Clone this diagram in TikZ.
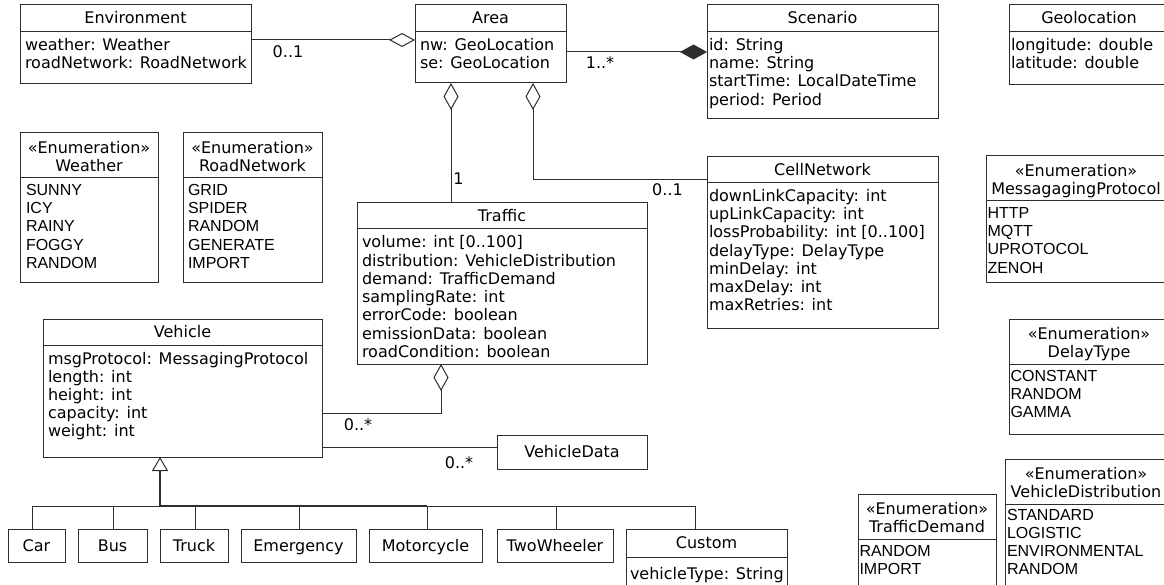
\documentclass[tikz,border=0pt]{standalone}
\usepackage{fontspec}
\setmainfont{DejaVu Sans}
\newfontfamily\litfont{Liberation Sans}
\usetikzlibrary{arrows.meta,calc}
\definecolor{linec}{gray}{0.18}
\tikzset{
  umlbox/.style={draw=linec, line width=1pt, anchor=north west, inner sep=0pt, outer sep=0pt},
  txt/.style={inner sep=0pt, outer sep=0pt, font=\fontsize{16}{18}\selectfont},
  ttl/.style={txt, anchor=base},
  att/.style={txt, anchor=base west},
  lit/.style={inner sep=0pt, outer sep=0pt, anchor=base west, font=\litfont\fontsize{16}{18}\selectfont},
  mult/.style={txt, anchor=base},
  conn/.style={draw=linec, line width=1pt},
}
\newcommand\attrs[5]{%
  \foreach \t [count=\i from 0] in {#5} {\node[#2] (#1\i) at (#3, {#4+18.2*\i}) {\t};}%
}
\newcommand\divider[2]{\draw[conn] ([yshift=-#2pt]#1.north west) -- ([yshift=-#2pt]#1.north east);}
\begin{document}
\begin{tikzpicture}[x=1pt,y=-1pt]
\useasboundingbox (0,0) rectangle (1164,585);
\clip (0,0) rectangle (1164,585);
\fill[white] (0,0) rectangle (1164,585);

% ---------- Environment
\node[umlbox, minimum width=231pt, minimum height=79pt] (env) at (20,5) {};
\divider{env}{27}
\node[ttl] (envT) at (135.5,24) {Environment};
\attrs{envA}{att}{25}{50.5}{weather: Weather, roadNetwork: RoadNetwork}

% ---------- Area
\node[umlbox, minimum width=151pt, minimum height=78pt] (area) at (415,5) {};
\divider{area}{27}
\node[ttl] (areaT) at (490.5,24) {Area};
\attrs{areaA}{att}{420}{50.5}{nw: GeoLocation, se: GeoLocation}

% ---------- Scenario
\node[umlbox, minimum width=231pt, minimum height=114pt] (scen) at (707,5) {};
\divider{scen}{27}
\node[ttl] (scenT) at (822.5,24) {Scenario};
\attrs{scenA}{att}{709}{50.5}{id: String, name: String, startTime: LocalDateTime, period: Period}

% ---------- Geolocation
\node[umlbox, minimum width=160pt, minimum height=80pt] (geo) at (1009,5) {};
\divider{geo}{27}
\node[ttl] (geoT) at (1089,24) {Geolocation};
\attrs{geoA}{att}{1011}{50.5}{longitude: double, latitude: double}

% ---------- Weather
\node[umlbox, minimum width=138pt, minimum height=150pt] (wea) at (20,133) {};
\divider{wea}{45}
\node[ttl] (weaS) at (89,153.5) {«Enumeration»};
\node[ttl] (weaT) at (89,171.5) {Weather};
\attrs{weaL}{lit}{26}{195.5}{SUNNY, ICY, RAINY, FOGGY, RANDOM}

% ---------- RoadNetwork
\node[umlbox, minimum width=139pt, minimum height=150pt] (road) at (183,133) {};
\divider{road}{45}
\node[ttl] (roadS) at (252.5,153.5) {«Enumeration»};
\node[ttl] (roadT) at (252.5,171.5) {RoadNetwork};
\attrs{roadL}{lit}{188}{195.5}{GRID, SPIDER, RANDOM, GENERATE, IMPORT}

% ---------- Traffic
\node[umlbox, minimum width=290pt, minimum height=161pt] (traf) at (357,203) {};
\divider{traf}{26}
\node[ttl] (trafT) at (502,221.5) {Traffic};
\attrs{trafA}{att}{362}{248}{volume: int [0..100], distribution: VehicleDistribution, demand: TrafficDemand, samplingRate: int, errorCode: boolean, emissionData: boolean, roadCondition: boolean}

% ---------- CellNetwork
\node[umlbox, minimum width=231pt, minimum height=171pt] (cell) at (707,157) {};
\divider{cell}{26}
\node[ttl] (cellT) at (822.5,175.5) {CellNetwork};
\attrs{cellA}{att}{709}{201.5}{downLinkCapacity: int, upLinkCapacity: int, lossProbability: int [0..100], delayType: DelayType, minDelay: int, maxDelay: int, maxRetries: int}

% ---------- MessagingProtocol
\node[umlbox, minimum width=180pt, minimum height=127pt] (msg) at (986,156) {};
\divider{msg}{45}
\node[ttl] (msgS) at (1076,176.5) {«Enumeration»};
\node[ttl] (msgT) at (1076,194.5) {MessagagingProtocol};
\attrs{msgL}{lit}{987.5}{218.5}{HTTP, MQTT, UPROTOCOL, ZENOH}

% ---------- DelayType
\node[umlbox, minimum width=160pt, minimum height=115pt] (delay) at (1009,319) {};
\divider{delay}{45}
\node[ttl] (delayS) at (1089,339.5) {«Enumeration»};
\node[ttl] (delayT) at (1089,357.5) {DelayType};
\attrs{delayL}{lit}{1010.5}{381.5}{CONSTANT, RANDOM, GAMMA}

% ---------- VehicleDistribution
\node[umlbox, minimum width=162pt, minimum height=140pt] (vdist) at (1005,459) {};
\divider{vdist}{45}
\node[ttl] (vdistS) at (1086,479.5) {«Enumeration»};
\node[ttl] (vdistT) at (1086,497.5) {VehicleDistribution};
\attrs{vdistL}{lit}{1007}{520}{STANDARD, LOGISTIC, ENVIRONMENTAL, RANDOM}

% ---------- TrafficDemand
\node[umlbox, minimum width=138pt, minimum height=110pt] (tdem) at (858,494) {};
\divider{tdem}{45}
\node[ttl] (tdemS) at (927,514.5) {«Enumeration»};
\node[ttl] (tdemT) at (927,532.5) {TrafficDemand};
\attrs{tdemL}{lit}{859.5}{556.5}{RANDOM, IMPORT}

% ---------- Vehicle
\node[umlbox, minimum width=279pt, minimum height=138pt] (veh) at (43,319) {};
\divider{veh}{26}
\node[ttl] (vehT) at (182.5,337.5) {Vehicle};
\attrs{vehA}{att}{48}{364}{msgProtocol: MessagingProtocol, length: int, height: int, capacity: int, weight: int}

% ---------- VehicleData
\node[umlbox, minimum width=150pt, minimum height=34pt] (vdata) at (497,435) {};
\node[ttl] (vdataT) at (572,457.5) {VehicleData};

% ---------- Subclasses
\node[umlbox, minimum width=57pt, minimum height=33pt] (car) at (8,529) {};
\node[ttl] (carT) at (car.center |- 0,551) {Car};
\node[umlbox, minimum width=69pt, minimum height=33pt] (bus) at (78,529) {};
\node[ttl] (busT) at (bus.center |- 0,551) {Bus};
\node[umlbox, minimum width=68pt, minimum height=33pt] (truck) at (160,529) {};
\node[ttl] (truckT) at (truck.center |- 0,551) {Truck};
\node[umlbox, minimum width=115pt, minimum height=33pt] (emer) at (241,529) {};
\node[ttl] (emerT) at (emer.center |- 0,551) {Emergency};
\node[umlbox, minimum width=113pt, minimum height=33pt] (moto) at (369,529) {};
\node[ttl] (motoT) at (moto.center |- 0,551) {Motorcycle};
\node[umlbox, minimum width=116pt, minimum height=33pt] (two) at (497,529) {};
\node[ttl] (twoT) at (two.center |- 0,551) {TwoWheeler};
\node[umlbox, minimum width=161pt, minimum height=70pt] (cust) at (626,529) {};
\divider{cust}{28}
\node[ttl] (custT) at (706.5,548.5) {Custom};
\node[att] (custA) at (630,579) {vehicleType: String};

% ---------- Connectors
\draw[conn, -{Diamond[open, length=26pt, width=14pt]}] ([yshift=-35pt]env.north east) -- ([yshift=-35pt]area.north west);
\node[mult] (m1) at (288,57.5) {0..1};

\draw[conn, -{Diamond[length=27pt, width=15pt]}] ([yshift=-47pt]area.north east) -- ([yshift=-47pt]scen.north west);
\node[mult] (m2) at (600,68.5) {1..*};

\draw[conn, {Diamond[open, length=27pt, width=15pt]}-] ([xshift=36pt]area.south west) -- ([xshift=36pt]area.south west |- traf.north);
\node[mult] (m3) at (458.5,185) {1};

\draw[conn, {Diamond[open, length=27pt, width=15pt]}-] ([xshift=118pt]area.south west) |- ([yshift=-23pt]cell.north west);
\node[mult] (m4) at (667.5,196) {0..1};

\draw[conn, {Diamond[open, length=27pt, width=15pt]}-] ([xshift=84pt]traf.south west) |- ([yshift=-94pt]veh.north east);
\node[mult] (m5) at (358,430) {0..*};

\draw[conn] ([yshift=-128pt]veh.north east) -- ([yshift=-12pt]vdata.north west);
\node[mult] (m6) at (459,468) {0..*};

% generalization
\coordinate (gen) at (160,506);
\foreach \n/\dx in {car/-4.5, bus/0.5, truck/1, emer/0.5, moto/1.5, two/1, cust/-11.5}
  \draw[conn] ([xshift=\dx pt]\n.north) |- (gen);
\draw[conn, line width=1.5pt] (gen) -- ([xshift=1.5pt]moto.north |- gen);
\draw[conn, line width=2pt, -{Triangle[open, length=14pt, width=16pt, line width=1pt]}] (gen) -- ([xshift=117pt]veh.south west);
\end{tikzpicture}
\end{document}
